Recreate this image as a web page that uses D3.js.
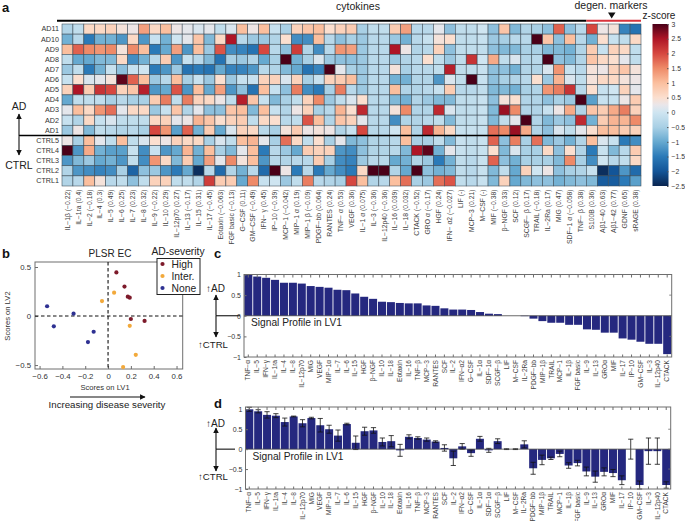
<!DOCTYPE html>
<html><head><meta charset="utf-8">
<script src="https://cdnjs.cloudflare.com/ajax/libs/d3/7.8.5/d3.min.js"></script>
<style>html,body{margin:0;padding:0;background:#fff}svg{display:block}text{font-family:"Liberation Sans",Arial,sans-serif}</style>
</head><body><svg id="c" width="685" height="521"></svg>
<script>
const rowNames=["AD11","AD10","AD9","AD8","AD7","AD6","AD5","AD4","AD3","AD2","AD1","CTRL5","CTRL4","CTRL3","CTRL2","CTRL1"];
const heatLabels=["IL−1β (−0.22)","IL−1ra (0.4)","IL−2 (−0.18)","IL−4 (0.3)","IL−5 (0.49)","IL−6 (0.25)","IL−7 (0.23)","IL−8 (0.32)","IL−9 (−0.22)","IL−10 (0.29)","IL−12p70 (0.27)","IL−13 (−0.17)","IL−15 (0.31)","IL−17 (−0.45)","Eotaxin (−0.063)","FGF basic (−0.13)","G−CSF (0.11)","GM−CSF (−0.49)","IFN− γ (0.45)","IP−10 (−0.39)","MCP−1 (−0.042)","MIP−1 α (0.19)","MIP−1 β (−0.09)","PDGF−bb (0.064)","RANTES (0.24)","TNF− α (0.53)","VEGF (0.36)","IL−1 α (0.075)","IL−3 (−0.36)","IL−12p40 (−0.36)","IL−16 (0.039)","IL−18 (0.032)","CTACK (−0.52)","GRO α (−0.17)","HGF (0.24)","IFN− α2 (−0.027)","LIF (-)","MCP−3 (0.21)","M−CSF (-)","MIF (−0.38)","β−NGF (0.33)","SCF (0.12)","SCGF− β (0.17)","TRAIL (−0.18)","IL−2Ra (0.17)","MIG (0.47)","SDF−1 α (−0.058)","TNF− β (0.38)","S100B (0.36)","Aβ1−40 (0.63)","Aβ1−42 (0.77)","GDNF (0.65)","sRAGE (0.38)"];
const ad11=[-.4,-.2,.6,.6,.7,.4,.3,1.3,.6,1,.3,.2,.1,.2,-.2,.1,1,.3,1,-.1,-.5,.7,.9,1,.5,.7,.8,-.5,-.2,-.2,.8,1.3,-.3,-.3,.2,-.7,-.2,-.2,0,-.7,.9,-.8,-.4,-.5,-.7,1.8,-.7,-.3,2,.3,.4,-1.4,-1.6];
const ad10=[-.9,-.3,-1.5,-.9,-.9,-1.2,.6,-1.2,-.1,-.9,0,.2,.9,-.8,.6,2.5,-.3,-.6,-.6,-.4,.5,-1.3,-1.3,1,-.3,-.7,-.5,-.6,-.3,-.3,-.6,-.9,-.3,-.1,.4,.5,-.2,-.2,-.1,-.6,-.5,-.3,-.3,3,.9,-.7,1,-.3,-.9,.5,-.1,-.2,.6];
const ad9=[1,1.8,1.5,1.4,1.5,.4,1.5,1,-1.5,-1,1.3,-1.2,1,-.6,1.9,-1.3,-1.4,-1.6,2,-.3,-.7,2.1,-.4,-1.3,-.3,1.4,1.3,-.6,-.3,-.3,2.5,.3,-.4,-.3,.7,-.7,-.2,-.2,-.2,-.7,-.8,-.8,-.5,-.5,-.8,-.8,-.9,-.4,.8,-.1,.7,.6,-.2];
const ad8=[-.2,-1,-1,-.8,-.8,.6,-1.3,-.9,-.3,.8,-1.2,-.1,-.3,-.8,-1.6,-.5,-.6,-.4,-1,-.5,3,-.9,-.5,.1,-.6,-.7,-.7,-.6,-.3,-.3,-.6,-.4,-.3,.5,-.2,-.6,-.2,2.2,0,1.2,-.2,.1,-.4,-.3,3,-.7,-.8,-.4,.9,.6,.5,.2,-.2];
const ad7=[-.6,-.2,-1.5,-.9,-.1,-.7,-.1,0,-1.5,-1.2,-.6,-1.6,-1.5,-1.6,-1,-1.4,-1.4,-1.2,-.3,-.4,-.8,-1,-1.6,-1.4,3.2,.2,-.5,-.6,-.3,-.3,.4,-.5,-.3,-.3,-.2,2.4,-.2,-.2,-.1,-.7,-.7,-.9,-.4,-.4,.1,1.4,-.1,-.3,.4,.3,.7,.9,.4];
const ad6=[-.1,.5,.1,.2,.4,2.9,1.8,1,-.6,-.3,1,-.5,-.1,-.6,.5,-.6,-.1,-.1,.7,.7,.1,.7,-.5,-.1,.7,.8,1,-.6,-.3,-.3,-.9,-.9,-.4,-.4,-1.2,.1,-.2,3,-.1,-.7,-.5,-.4,-.3,.5,-.6,1.1,.1,-.2,.4,.6,.6,.4,.3];
const ad5=[.7,2.5,.8,2.2,2,.7,.9,2.4,-1.2,-1,1.9,-1.2,1,-1,1.3,-1.2,-.7,-1.6,1,-.1,-.7,1.6,-1.3,-1.5,-.5,1.6,-.3,-.6,-.3,-.3,1,-.4,-.4,-.3,-.1,.8,-.3,-.3,-.2,-.8,-.8,-.9,-.5,-.4,1.4,1.6,2.2,-.3,.5,-.1,0,.7,.2];
const ad4=[-1,-.2,-.2,-.2,-.5,-.3,-.5,-.5,.8,1.6,-.2,1.6,.7,.6,.3,-.2,2.4,.9,-.1,-.8,-.5,-.2,.7,1.5,-.6,-.2,.1,.5,-.3,-.3,-.8,-.9,-.4,-.6,-.8,-.8,-.2,-.2,-.1,-.7,.4,.5,-.4,-.4,-.7,-.5,-.6,3,-1.1,-.1,-.1,.3,.8];
const ad3=[.2,1,.6,1.4,1.7,.2,.6,.6,-.6,-.1,.9,-.4,.2,-.7,-.7,.9,1,-.8,1,-.1,-.4,.3,.7,-.5,-.3,1.1,.5,2.3,-.3,-.3,.4,1.5,-.4,-.4,2.3,.1,-.2,-.2,-.1,-.8,2.6,1.5,-.4,-.4,-.1,.3,1.2,-.4,.9,.8,1.2,1.6,.7];
const ad2=[-.1,-.4,.6,-.1,.1,-.2,-.2,-.2,.6,.7,.2,.3,1.1,.9,.5,.7,.8,-.2,.6,.5,-.3,-.2,1.9,1,-.4,.9,.7,.2,-.3,-.3,-1.3,-.4,-.4,-.3,-.2,-.8,-.2,-.2,-.1,-.8,-.2,.2,3.2,-.4,-.8,-.6,-.7,2.3,-.9,.8,1.1,1.1,1.5];
const ad1=[-.6,.3,-.8,-.2,-.3,-.4,-.3,-.5,2,1.4,-1.1,1.8,-.9,.8,-1,.1,.7,.6,-.3,-.5,.4,.8,.3,.4,.3,-.4,-.1,2,-.3,-.3,0,1,-.4,2.3,1.1,.6,-.1,-.1,-.1,1.7,1.5,2.6,1.2,-.4,-.7,.1,-.2,.2,.5,1,1,.8,.7];
const ctrl5=[.3,-.5,1,.2,-.2,1,-.2,.1,.5,.3,.7,.6,.6,-.5,.1,-.2,1,1.1,.2,-.5,1.7,.6,-.2,.5,-.5,.2,-.8,-.7,-.4,-.4,-.3,1,-.5,-.5,-.2,-.8,-.1,-.2,-.1,1.8,-.7,1.6,-.5,1.7,-.8,-.6,-.9,-.4,1,.1,-.1,-1.5,-1.3];
const ctrl4=[3.2,-1.2,1.2,-.9,-1.1,-1.1,-.1,-1.3,-.1,-1.2,-1,1.1,-.9,1,-.5,-.8,.2,1,-1.5,-.3,-.6,-1,.8,.7,.7,-1.2,-1.3,-.7,-.4,-.4,-.3,-.8,2.5,2.9,-.9,.2,-.1,-.2,-.1,.5,-.8,.1,-.5,-.5,.6,-.7,.5,-.4,-1.5,-.1,-.8,-.3,.8];
const ctrl3=[-1.2,-.8,-.6,-1,-.9,-1.2,-.2,-1.3,1.4,.6,-.8,.8,-1,1.3,.2,1.5,.4,1,-1.2,-.3,-.4,-.3,-.3,.8,-.5,-1.3,-1.4,-.6,-.3,-.3,-1,-.9,-.4,-.6,-1.5,-.9,-.2,-.3,-.1,1.8,-.7,-.9,-.5,-.5,-.5,-.8,1.5,-.5,-1.3,0,-.3,-.2,.6];
const ctrl2=[-.4,-1.2,-1.3,-1.4,-1.3,-.5,-1.8,-.7,-.6,-1.2,-1.5,-1,-2.4,-.3,-1.7,-.4,-.9,-.3,-1.7,3,.3,-1.5,-.3,-1.5,-1,-1.3,-1.5,.6,3.2,3.2,-.4,-1,3,-.7,-.9,-.8,-.2,-.3,-.1,-.8,-.2,-1,.7,0,.3,-.7,-.5,-.4,-.1,-2.4,-2,-1.2,-1.7];
const ctrl1=[-.4,-.3,1,.4,-.3,-.2,-.7,-.2,.7,.7,-.2,-.2,-.4,2.1,.8,.8,-1,1.5,-.1,0,-.6,-.2,1.6,-.3,-.4,-.5,2,1,-.4,-.3,1,1.7,-.5,-.6,1.7,1.9,-.2,-.3,-.1,-.8,.7,-1,-.8,-.7,-.7,-.9,-.8,-.7,-.8,-1.9,-1.9,-1.5,-1.1];
const heatRows=[ad11,ad10,ad9,ad8,ad7,ad6,ad5,ad4,ad3,ad2,ad1,ctrl5,ctrl4,ctrl3,ctrl2,ctrl1];
const colorStops=[-2.5,-2,-1.5,-1,-.5,0,.25,.5,1,1.5,2,2.5,3];
const colorRange=["#0a2550","#135598","#2b7ab8","#66a9d0","#a9d0e5","#cfe5f1","#e9e6ea","#fbdfcf","#fbbf9e","#ee8a68","#d6473f","#ae1526","#4a0018"];
const colorTicks=[3,2.5,2,1.5,1,.5,0,-.5,-1,-1.5,-2,-2.5];

const scoreHigh={x:[.073,.144,.173,.19,.2,.32],y:[.445,.30,.197,.187,-.03,-.05]};
const scoreInter={x:[.053,-.053,.19,.243,.132],y:[.238,.153,-.10,-.395,-.52]};
const scoreNone={x:[-.534,-.302,-.475,-.126,-.176],y:[.10,.024,-.105,-.16,-.265]};
const scatterXTicks=[-.6,-.4,-.2,0,.2,.4,.6];
const scatterYTicks=[.5,0,-.5];

const profileC=["TNF−α","IL−5","IFN−γ","IL−1ra","IL−4","IL−8","IL−12p70","MIG","VEGF","MIP−1α","IL−7","IL−6","IL−15","HGF","β−NGF","IL−10","IL−18","Eotaxin","IL−16","TNF−β","MCP−3","RANTES","SCF","IL−2","IFN−α2","G−CSF","IL−1α","SDF−1α","SCGF−β","LIF","M−CSF","IL−2Ra","PDGF−bb","MIP−1β","TRAIL","MCP−1","IL−1β","FGF basic","IL−9","IL−13","GROα","MIF","IL−17","IP−10","GM−CSF","IL−3","IL−12p40","CTACK"];
const valuesC=[1,.95,.92,.87,.80,.80,.78,.72,.70,.68,.63,.62,.54,.46,.41,.34,.33,.31,.30,.30,.25,.24,.18,.15,.15,.14,.09,.05,.04,0,0,-.01,-.07,-.13,-.17,-.17,-.22,-.22,-.33,-.34,-.41,-.41,-.55,-.58,-.63,-.68,-.68,-.93];
const valuesD=[1,.95,.86,.84,.68,.82,.65,.78,.6,.5,.34,.63,.16,.45,.47,.18,.2,-.03,.31,.28,.24,.19,.03,-.23,.07,-.1,.26,-.03,.2,0,0,.12,-.48,-.27,-.23,-.12,-.41,-.35,-.56,-.69,-.57,-.6,-.78,0,-.9,-.05,-.05,-.9];
const errorsD=[.05,.04,.08,.05,.1,.01,.09,.02,.17,.1,.14,.02,.17,.1,.07,.1,.14,.15,.05,.03,.04,.02,.08,.18,.07,.08,.06,.05,.06,.01,.01,.09,.15,.12,.03,.07,.07,.07,.11,.14,.1,.09,.11,.25,.1,.33,.33,.08];
const profileTicks=[1,.5,0,-.5,-1];

const svg=d3.select("#c");
const TXT="#333",GREY="#6e6e6e",NAVY="#25287f";
const fmt=v=>String(v).replace("-","−");
function text(x,y,s,size,opt={}){
  const t=svg.append("text").attr("x",x).attr("y",y).text(s).attr("font-size",size)
   .attr("fill",opt.fill||TXT).attr("text-anchor",opt.anchor||"start");
  if(opt.bold)t.attr("font-weight","bold");
  if(opt.rot!==undefined)t.attr("transform",`rotate(${opt.rot} ${x} ${y})`);
  return t;
}
function line(x1,y1,x2,y2,c,w,dash){
  const l=svg.append("line").attr("x1",x1).attr("y1",y1).attr("x2",x2).attr("y2",y2).attr("stroke",c).attr("stroke-width",w);
  if(dash)l.attr("stroke-dasharray",dash);return l;
}
svg.append("defs").append("marker").attr("id","ah").attr("viewBox","0 0 10 10").attr("refX",9).attr("refY",5)
  .attr("markerWidth",6).attr("markerHeight",5.5).attr("markerUnits","userSpaceOnUse").attr("orient","auto")
  .append("path").attr("d","M0,0L10,5L0,10Z").attr("fill","#111");
function arrow(x1,y1,x2,y2,w=1.1){line(x1,y1,x2,y2,"#111",w).attr("marker-end","url(#ah)");}

// panel letters
text(2,12,"a",13,{bold:true,fill:"#111"});
text(2,258,"b",13,{bold:true,fill:"#111"});
text(214,258,"c",13,{bold:true,fill:"#111"});
text(214,408,"d",13,{bold:true,fill:"#111"});

// a: heatmap
const hm={l:62,r:641,t:24,b:186};
const xH=d3.scaleBand().domain(d3.range(heatLabels.length)).range([hm.l,hm.r]);
const yH=d3.scaleBand().domain(rowNames).range([hm.t,hm.b]);
const col=d3.scaleLinear().domain(colorStops).range(colorRange).clamp(true);
heatRows.forEach((row,ri)=>{
  svg.append("g").selectAll("rect").data(row).join("rect")
   .attr("x",(d,i)=>xH(i)).attr("y",yH(rowNames[ri])).attr("width",xH.bandwidth()).attr("height",yH.bandwidth())
   .attr("fill",d=>col(d)).attr("stroke","#3c4a55").attr("stroke-width",.55);
});
const yAxisH=svg.append("g").attr("transform",`translate(${hm.l},0)`).call(d3.axisLeft(yH).tickSize(0).tickPadding(3));
yAxisH.select(".domain").remove();
yAxisH.selectAll("text").attr("font-size",7.2).attr("fill",TXT).attr("font-family",'"Liberation Sans",sans-serif');
const xAxisH=svg.append("g").attr("transform",`translate(0,${hm.b})`).call(d3.axisBottom(xH).tickSize(0).tickFormat(i=>heatLabels[i]));
xAxisH.select(".domain").remove();
xAxisH.selectAll("text").attr("font-size",6.8).attr("fill","#444").attr("font-family",'"Liberation Sans",sans-serif')
  .attr("text-anchor","end").attr("transform","rotate(-90)").attr("x",-3.5).attr("y",0).attr("dy","0.33em").attr("dx",0);
line(57,20.7,xH(48),20.7,"#000",2);
line(xH(48),20.7,hm.r,20.7,"#d8333c",2);
text(358,10,"cytokines",10.5,{anchor:"middle",fill:"#222"});
text(611,9,"degen. markers",10.5,{anchor:"middle",fill:"#222"});
svg.append("path").attr("d","M608,12.5L615.5,12.5L611.7,18.5Z").attr("fill","#111");
text(659,19,"z-score",10,{anchor:"middle",fill:"#222"});
// colorbar
const cb={x:652.5,w:16};
const yCb=d3.scaleLinear().domain([3,-2.5]).range([24,186]);
const grad=svg.select("defs").append("linearGradient").attr("id","cbg").attr("x1",0).attr("y1",0).attr("x2",0).attr("y2",1);
colorStops.slice().reverse().forEach(v=>grad.append("stop").attr("offset",(yCb(v)-24)/162).attr("stop-color",col(v)));
svg.append("rect").attr("x",cb.x).attr("y",24).attr("width",cb.w).attr("height",162).attr("fill","url(#cbg)");
const cbAxis=svg.append("g").attr("transform",`translate(${cb.x+cb.w},0)`).call(d3.axisRight(yCb).tickValues(colorTicks).tickSize(-1.5).tickPadding(3).tickFormat(fmt));
cbAxis.select(".domain").remove();cbAxis.selectAll("line").attr("stroke","#555");
cbAxis.selectAll("text").attr("font-size",6.8).attr("fill",TXT).attr("font-family",'"Liberation Sans",sans-serif');
// AD / CTRL divider
line(19,yH("CTRL5"),hm.r,yH("CTRL5"),"#000",1.5);
arrow(19,136.7,19,114);arrow(19,136.7,19,155);
text(19,110,"AD",10.5,{anchor:"middle",fill:"#222"});
text(19,169,"CTRL",10.5,{anchor:"middle",fill:"#222"});

// b: scatter
const sc={l:35,r:182.7,t:262,b:369};
const xS=d3.scaleLinear().domain([-.64,.654]).range([sc.l,sc.r]);
const yS=d3.scaleLinear().domain([.551,-.54]).range([sc.t,sc.b]);
svg.append("rect").attr("x",sc.l).attr("y",sc.t).attr("width",sc.r-sc.l).attr("height",sc.b-sc.t).attr("fill","none").attr("stroke",GREY).attr("stroke-width",1);
const xaS=svg.append("g").attr("transform",`translate(0,${sc.b})`).call(d3.axisBottom(xS).tickValues(scatterXTicks).tickSize(-3).tickPadding(4).tickFormat(fmt));
const yaS=svg.append("g").attr("transform",`translate(${sc.l},0)`).call(d3.axisLeft(yS).tickValues(scatterYTicks).tickSize(-3).tickPadding(4).tickFormat(fmt));
[xaS,yaS].forEach(a=>{a.select(".domain").remove();a.selectAll("line").attr("stroke",GREY);
  a.selectAll("text").attr("font-size",7.8).attr("fill",TXT).attr("font-family",'"Liberation Sans",sans-serif');});
line(sc.l,yS(0),sc.r,yS(0),"#111",1.1,"3.5,2.5");
line(xS(0),sc.t,xS(0),sc.b,"#111",1.1,"3.5,2.5");
[[scoreHigh,"#7d1a2a"],[scoreInter,"#f2a93b"],[scoreNone,"#2e3192"]].forEach(([s,c])=>{
  svg.append("g").selectAll("circle").data(s.x).join("circle")
   .attr("cx",d=>xS(d)).attr("cy",(d,i)=>yS(s.y[i])).attr("r",2.1).attr("fill",c);
});
text(110,257,"PLSR EC",10,{anchor:"middle",fill:"#222"});
text(178,255,"AD-severity",10.3,{anchor:"middle",fill:"#222"});
svg.append("rect").attr("x",157).attr("y",258.5).attr("width",43).attr("height",36).attr("fill","#fff").attr("stroke","#222").attr("stroke-width",1);
[["High","#7d1a2a"],["Inter.","#f2a93b"],["None","#2e3192"]].forEach(([n,c],i)=>{
  svg.append("circle").attr("cx",162.5).attr("cy",264+i*12).attr("r",2.1).attr("fill",c);
  text(171.5,268+i*12,n,10.3,{fill:"#222"});
});
text(105,390,"Scores on LV1",7.6,{anchor:"middle"});
text(10,316,"Scores on LV2",7.6,{anchor:"middle",rot:-90});
arrow(70,397,145,397,1.2);
text(107,408,"Increasing disease severity",9.7,{anchor:"middle",fill:"#222"});

// c, d: bar profiles
function barPanel(o){
  const x=d3.scaleBand().domain(profileC).range([o.x0,o.x1]).paddingInner(.1).paddingOuter(0);
  const y=d3.scaleLinear().domain([-1,1]).range([o.bottom,o.top]);
  svg.append("g").selectAll("rect").data(o.values).join("rect")
    .attr("x",(d,i)=>x(profileC[i])).attr("width",x.bandwidth())
    .attr("y",d=>y(Math.max(0,d))).attr("height",d=>Math.abs(y(d)-y(0))).attr("fill",NAVY);
  if(o.errors){
    o.values.forEach((v,i)=>{
      const c=x(profileC[i])+x.bandwidth()/2,e=o.errors[i];
      line(c,y(v-e),c,y(v+e),"#111",.8);
      line(c-2.6,y(v-e),c+2.6,y(v-e),"#111",.8);
      line(c-2.6,y(v+e),c+2.6,y(v+e),"#111",.8);
    });
  }
  line(o.l,y(0),o.r,y(0),"#444",.8);
  svg.append("rect").attr("x",o.l).attr("y",o.frameTop).attr("width",o.r-o.l).attr("height",o.bottom-o.frameTop).attr("fill","none").attr("stroke",GREY).attr("stroke-width",1);
  const ya=svg.append("g").attr("transform",`translate(${o.l},0)`).call(d3.axisLeft(y).tickValues(profileTicks).tickSize(-2.5).tickPadding(3).tickFormat(fmt));
  ya.select(".domain").remove();ya.selectAll("line").attr("stroke",GREY);
  ya.selectAll("text").attr("font-size",7).attr("fill",TXT).attr("font-family",'"Liberation Sans",sans-serif');
  const xa=svg.append("g").attr("transform",`translate(0,${o.bottom})`).call(d3.axisBottom(x).tickSize(-2.5).tickPadding(0));
  xa.select(".domain").remove();xa.selectAll("line").attr("stroke",GREY);
  xa.selectAll("text").attr("font-size",6.6).attr("fill","#444").attr("font-family",'"Liberation Sans",sans-serif')
    .attr("text-anchor","end").attr("transform","rotate(-90)").attr("x",-3).attr("y",0).attr("dy","0.33em").attr("dx",0);
  const xt=svg.append("g").attr("transform",`translate(0,${o.frameTop})`).call(d3.axisBottom(x).tickSize(3).tickFormat(""));
  xt.select(".domain").remove();xt.selectAll("line").attr("stroke",GREY);
  profileTicks.slice(1,-1).forEach(t=>line(o.r-2.5,y(t),o.r,y(t),GREY,.8));
  text(o.l+7,y(0)+10.5,"Signal Profile in LV1",10.2,{fill:"#222"});
  line(216,y(0),o.lineEnd,y(0),"#111",1.1);
  arrow(216,y(0),216,o.arrowTop);arrow(216,y(0),216,o.arrowBottom);
  text(215.5,o.adBase,"↑AD",10,{anchor:"middle",fill:"#222"});
  text(213,o.ctrlBase,"↑CTRL",9.6,{anchor:"middle",fill:"#222"});
}
barPanel({l:244,r:671.7,top:274.5,frameTop:274.5,bottom:357,x0:244.3,x1:671.2,values:valuesC,lineEnd:240,arrowTop:295,arrowBottom:337,adBase:292,ctrlBase:347.5});
barPanel({l:245.5,r:670.7,top:409.3,frameTop:407,bottom:489,x0:245.3,x1:670.2,values:valuesD,errors:errorsD,lineEnd:235,arrowTop:428,arrowBottom:471,adBase:427,ctrlBase:480});
</script></body></html>
